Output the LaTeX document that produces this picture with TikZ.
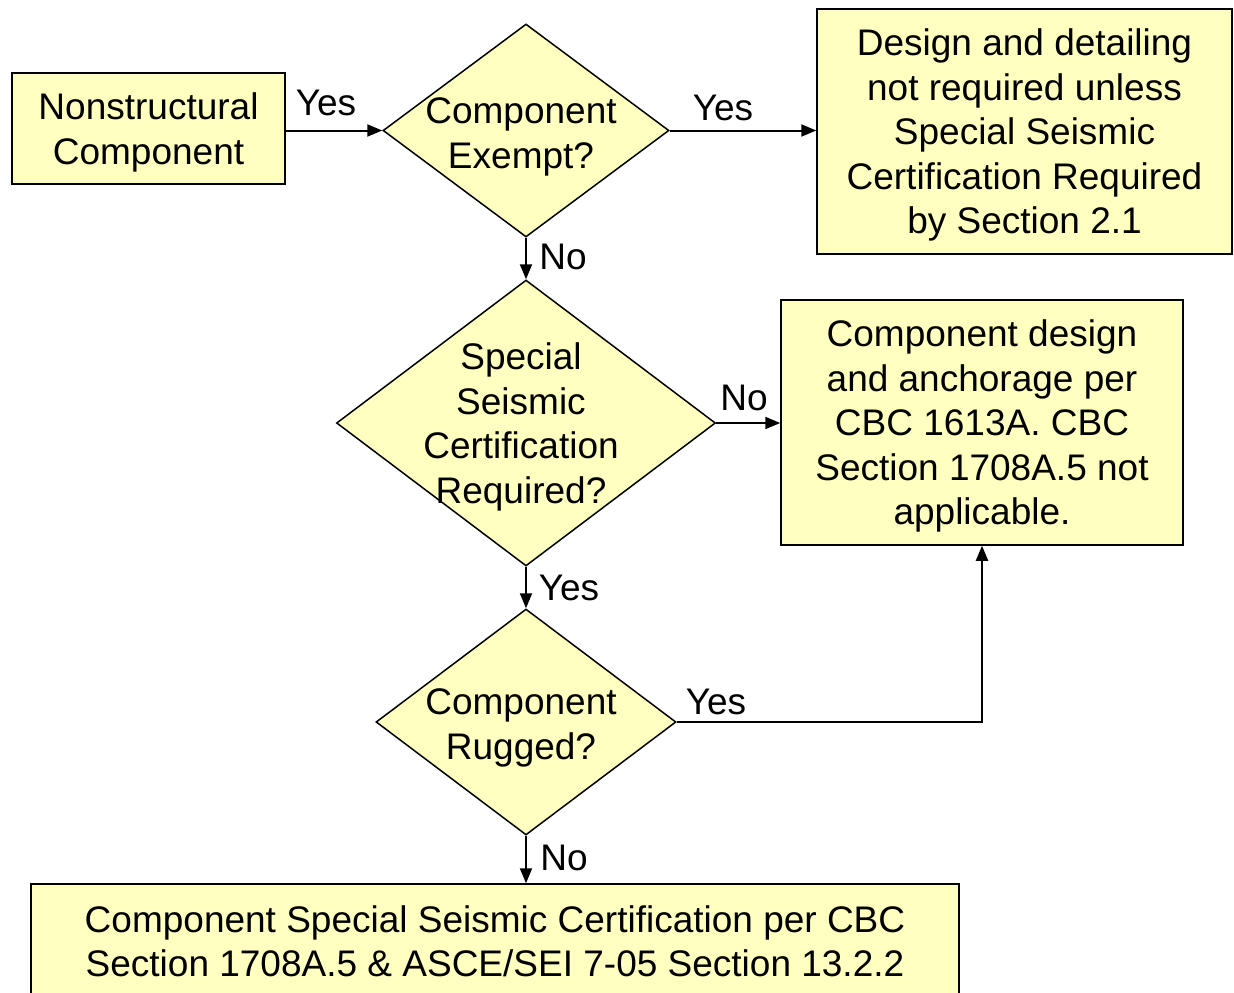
\documentclass[tikz,border=0pt]{standalone}
\usepackage{fontspec}
\setmainfont{Liberation Sans}
\usetikzlibrary{shapes.geometric,arrows.meta}
\definecolor{boxfill}{HTML}{FFFFC0}
\newcommand{\flowfont}{\fontsize{37}{44.5}\selectfont}
\tikzset{
  box/.style={draw, fill=boxfill, line width=1.5pt, align=center, inner sep=0pt, font=\flowfont},
  decision/.style={diamond, draw, fill=boxfill, line width=1.5pt, inner sep=0pt},
  dtext/.style={align=center, inner sep=0pt, font=\flowfont},
  lbl/.style={inner sep=0pt, font=\flowfont},
  flow/.style={line width=2pt, -{Triangle[length=15pt,width=12pt]}}
}
\begin{document}
\begin{tikzpicture}[x=1pt, y=-1pt]
    \useasboundingbox (0,0) rectangle (1234,993);
    \clip (0,0) rectangle (1234,993);
    \fill[white] (0,0) rectangle (1234,993);
    % boxes
    \node[box, text depth=0pt, minimum width=273pt, minimum height=111pt] (nonstruct) at (148.5,128.5) {Nonstructural\\Component};
    \node[box, text depth=0pt, minimum width=415pt, minimum height=245pt] (notreq) at (1024.5,131.5) {Design and detailing\\not required unless\\Special Seismic\\Certification Required\\by Section 2.1};
    \node[box, text depth=0pt, minimum width=402pt, minimum height=245pt] (percbc) at (982,422.5) {Component design\\and anchorage per\\CBC 1613A. CBC\\Section 1708A.5 not\\applicable.};
    \node[box, minimum width=928pt, minimum height=115pt] (certif) at (495,941.5) {Component Special Seismic Certification per CBC\\Section 1708A.5 \& ASCE/SEI 7-05 Section 13.2.2};
    % decisions
    \node[decision, minimum width=286pt, minimum height=213pt] (exempt) at (526,130.5) {};
    \node[dtext] (exempt-txt) at (521,137) {Component\\Exempt?};
    \node[decision, minimum width=379pt, minimum height=286pt] (special) at (526,423) {};
    \node[dtext] (special-txt) at (521,427) {Special\\Seismic\\Certification\\Required?};
    \node[decision, minimum width=300pt, minimum height=226pt] (rugged) at (526,722) {};
    \node[dtext] (rugged-txt) at (521,728) {Component\\Rugged?};
    % connectors
    \draw[flow] (exempt.west -| nonstruct.east) -- (exempt.west);
    \draw[flow] (exempt.east) -- (exempt.east -| notreq.west);
    \draw[flow] (exempt.south) -- (special.north);
    \draw[flow] (special.east) -- (special.east -| percbc.west);
    \draw[flow] (special.south) -- (rugged.north);
    \draw[flow] (rugged.east) -| (percbc.south);
    \draw[flow] (rugged.south) -- (rugged.south |- certif.north);
    % labels
    \node[lbl] (yes-a) at (326,103) {Yes};
    \node[lbl] (yes-b) at (723,108) {Yes};
    \node[lbl] (no-a) at (563,257) {No};
    \node[lbl] (no-b) at (744,398) {No};
    \node[lbl] (yes-c) at (569,588) {Yes};
    \node[lbl] (yes-d) at (716,702) {Yes};
    \node[lbl] (no-c) at (564,858) {No};
\end{tikzpicture}
\end{document}
